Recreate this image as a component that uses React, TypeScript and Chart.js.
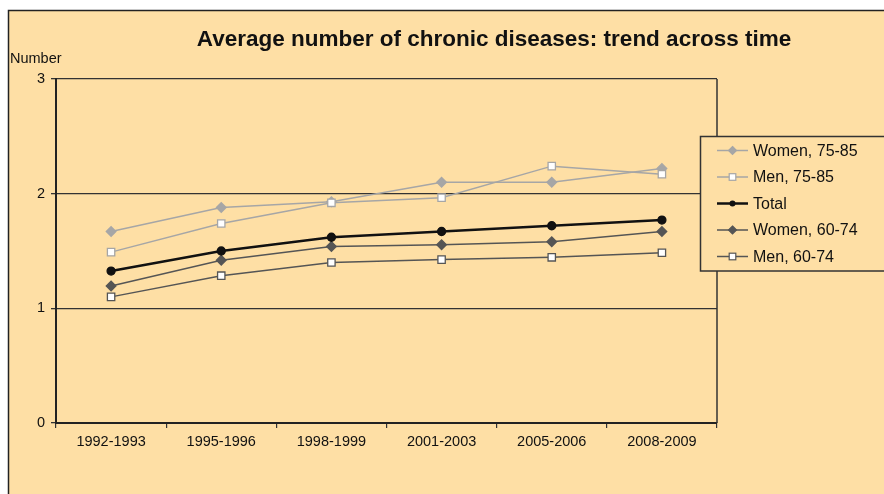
import React, { useEffect, useRef } from "react";
import { Chart, registerables } from "chart.js";

Chart.register(...registerables);

const categories = ["1992-1993", "1995-1996", "1998-1999", "2001-2003", "2005-2006", "2008-2009"];
const seriesNames = ["Women, 75-85", "Men, 75-85", "Total", "Women, 60-74", "Men, 60-74"];
const women7585 = [1.67, 1.88, 1.93, 2.1, 2.1, 2.22];
const men7585 = [1.49, 1.74, 1.92, 1.965, 2.24, 2.17];
const total = [1.325, 1.5, 1.62, 1.67, 1.72, 1.77];
const women6074 = [1.195, 1.42, 1.54, 1.555, 1.58, 1.67];
const men6074 = [1.1, 1.285, 1.4, 1.425, 1.445, 1.485];
const yTicks = [0, 1, 2, 3];

const title = "Average number of chronic diseases: trend across time";
const yTitle = "Number";

const FONT = '"Liberation Sans", Arial, sans-serif';
const BG = "#FEDFA5";

type Style = {
  color: string;
  width: number;
  point: string;
  radius: number;
  fill: string;
  order: number;
};

const styles: Style[] = [
  { color: "#A6A6A6", width: 1.5, point: "rectRot", radius: 4.8, fill: "#A6A6A6", order: 2 },
  { color: "#A6A6A6", width: 1.5, point: "rect", radius: 5.2, fill: "#FFFFFF", order: 1 },
  { color: "#111111", width: 2.5, point: "circle", radius: 4, fill: "#111111", order: 0 },
  { color: "#555555", width: 1.5, point: "rectRot", radius: 4.8, fill: "#555555", order: 3 },
  { color: "#555555", width: 1.5, point: "rect", radius: 5.2, fill: "#FFFFFF", order: 4 },
];

const seriesValues = [women7585, men7585, total, women6074, men6074];

const framePlugin = {
  id: "framePlugin",
  beforeDraw(chart: any) {
    const { ctx, width, height } = chart;
    ctx.save();
    ctx.fillStyle = "#FFFFFF";
    ctx.fillRect(0, 0, width, height);
    ctx.fillStyle = BG;
    ctx.fillRect(8, 10, width, height);
    ctx.strokeStyle = "#222222";
    ctx.lineWidth = 1.5;
    ctx.beginPath();
    ctx.moveTo(8.5, height + 2);
    ctx.lineTo(8.5, 10.5);
    ctx.lineTo(width + 2, 10.5);
    ctx.stroke();
    ctx.restore();
  },
  beforeDatasetsDraw(chart: any) {
    const { ctx, chartArea } = chart;
    ctx.save();
    ctx.strokeStyle = "#333333";
    ctx.lineWidth = 1.5;
    ctx.beginPath();
    ctx.moveTo(chartArea.right, chartArea.top);
    ctx.lineTo(chartArea.right, chartArea.bottom);
    ctx.stroke();
    ctx.restore();
  },
  afterDraw(chart: any) {
    const { ctx } = chart;
    ctx.save();
    // title
    ctx.fillStyle = "#111111";
    ctx.font = `bold 22.5px ${FONT}`;
    ctx.textAlign = "center";
    ctx.textBaseline = "middle";
    ctx.fillText(title, 494, 40);
    // y title
    ctx.font = `14.5px ${FONT}`;
    ctx.textAlign = "left";
    ctx.fillText(yTitle, 10, 59);
    // legend box
    ctx.fillStyle = BG;
    ctx.fillRect(700, 136, 200, 135);
    ctx.strokeStyle = "#333333";
    ctx.lineWidth = 1.5;
    ctx.strokeRect(700.5, 136.5, 200, 134.5);
    const rows = [150.5, 177, 203.5, 230, 256.5];
    chart.data.datasets.forEach((ds: any, i: number) => {
      const y = rows[i];
      const st = styles[i];
      ctx.strokeStyle = st.color;
      ctx.lineWidth = st.width;
      ctx.beginPath();
      ctx.moveTo(717, y);
      ctx.lineTo(748, y);
      ctx.stroke();
      const cx = 732.5;
      ctx.lineWidth = 1.2;
      ctx.fillStyle = st.fill;
      ctx.strokeStyle = st.color;
      if (st.point === "rectRot") {
        const r = 4;
        ctx.beginPath();
        ctx.moveTo(cx, y - r);
        ctx.lineTo(cx + r, y);
        ctx.lineTo(cx, y + r);
        ctx.lineTo(cx - r, y);
        ctx.closePath();
        ctx.fill();
        ctx.stroke();
      } else if (st.point === "rect") {
        const s = 3.3;
        ctx.fillRect(cx - s, y - s, 2 * s, 2 * s);
        ctx.strokeRect(cx - s, y - s, 2 * s, 2 * s);
      } else {
        ctx.beginPath();
        ctx.arc(cx, y, 3, 0, Math.PI * 2);
        ctx.fill();
      }
      ctx.fillStyle = "#111111";
      ctx.font = `16px ${FONT}`;
      ctx.textAlign = "left";
      ctx.textBaseline = "middle";
      ctx.fillText(ds.label, 753, y + 1);
    });
    ctx.restore();
  },
};

export default function App() {
  const ref = useRef<HTMLCanvasElement>(null);
  useEffect(() => {
    if (!ref.current) return;
    const chart = new Chart(ref.current, {
      type: "line",
      data: {
        labels: categories,
        datasets: seriesNames.map((name, i) => ({
          label: name,
          data: seriesValues[i],
          borderColor: styles[i].color,
          borderWidth: styles[i].width,
          pointStyle: styles[i].point as any,
          pointRadius: styles[i].radius,
          pointBackgroundColor: styles[i].fill,
          pointBorderColor: styles[i].color,
          pointBorderWidth: 1.3,
          tension: 0,
          fill: false,
          order: styles[i].order,
        })),
      },
      options: {
        animation: false,
        responsive: false,
        maintainAspectRatio: false,
        layout: { padding: { top: 79, right: 167, bottom: 0, left: 0 } },
        plugins: {
          legend: { display: false },
          title: { display: false },
          tooltip: { enabled: false },
        },
        scales: {
          x: {
            offset: true,
            afterFit: (scale: any) => {
              scale.height = 71;
            },
            grid: {
              offset: true,
              drawOnChartArea: false,
              drawTicks: true,
              tickLength: 5,
              color: "#333333",
              tickColor: "#333333",
              lineWidth: 1.2,
            },
            border: { display: true, color: "#222222", width: 2 },
            ticks: {
              color: "#111111",
              font: { family: FONT, size: 14.5 },
              padding: 5,
              maxRotation: 0,
              autoSkip: false,
            },
          },
          y: {
            min: 0,
            max: 3,
            afterFit: (scale: any) => {
              scale.width = 56;
            },
            afterBuildTicks: (scale: any) => {
              scale.ticks = yTicks.map((v) => ({ value: v }));
            },
            grid: {
              color: "#333333",
              tickColor: "#333333",
              lineWidth: 1.3,
              drawTicks: true,
              tickLength: 5,
            },
            border: { display: true, color: "#222222", width: 2 },
            ticks: {
              color: "#111111",
              font: { family: FONT, size: 14.5 },
              padding: 6,
            },
          },
        },
      },
      plugins: [framePlugin],
    });
    return () => chart.destroy();
  }, []);
  return (
    <div style={{ position: "fixed", left: 0, top: 0, width: 884, height: 494 }}>
      <canvas ref={ref} width={884} height={494} style={{ display: "block", width: 884, height: 494 }} />
    </div>
  );
}
